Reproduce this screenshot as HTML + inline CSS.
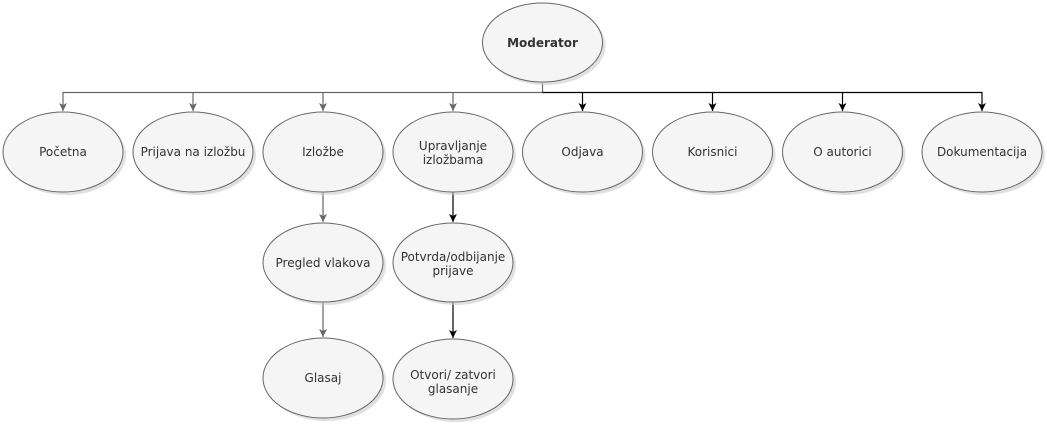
<!DOCTYPE html>
<html><head><meta charset="utf-8"><style>
html,body{margin:0;padding:0;background:#fff;}
svg{display:block;}
text{font-family:"DejaVu Sans","Liberation Sans",sans-serif;font-size:12px;fill:#333;text-anchor:middle;}
</style></head><body>
<svg width="1047" height="428" viewBox="0 0 1047 428" xmlns="http://www.w3.org/2000/svg">
<defs>
<marker id="ag" markerWidth="10" markerHeight="10" refX="8" refY="4" orient="auto" markerUnits="userSpaceOnUse"><path d="M0,0 L8,4 L0,8 L2,4 Z" fill="#666"/></marker>
<marker id="ab" markerWidth="10" markerHeight="10" refX="8" refY="4" orient="auto" markerUnits="userSpaceOnUse"><path d="M0,0 L8,4 L0,8 L2,4 Z" fill="#000"/></marker>
</defs>
<g fill="none" stroke-width="1.2">
<path d="M542.5 83 V92.5 H63 V111" stroke="#666" marker-end="url(#ag)"/>
<path d="M193 92.5 V111" stroke="#666" marker-end="url(#ag)"/>
<path d="M323 92.5 V111" stroke="#666" marker-end="url(#ag)"/>
<path d="M453 92.5 V111" stroke="#666" marker-end="url(#ag)"/>
<path d="M542.5 92.5 H982 V111" stroke="#000" marker-end="url(#ab)"/>
<path d="M582.5 92.5 V111" stroke="#000" marker-end="url(#ab)"/>
<path d="M712.5 92.5 V111" stroke="#000" marker-end="url(#ab)"/>
<path d="M842.5 92.5 V111" stroke="#000" marker-end="url(#ab)"/>
<path d="M323 192 V222" stroke="#666" marker-end="url(#ag)"/>
<path d="M323 302 V337" stroke="#666" marker-end="url(#ag)"/>
<path d="M453 192 V222" stroke="#000" marker-end="url(#ab)"/>
<path d="M453 302 V338" stroke="#000" marker-end="url(#ab)"/>
</g>
<g fill="#ccc" opacity="0.6">
<ellipse cx="545.5" cy="45.5" rx="60" ry="39.5"/>
<ellipse cx="66" cy="155" rx="60" ry="40"/>
<ellipse cx="196" cy="155" rx="60" ry="40"/>
<ellipse cx="326" cy="155" rx="60" ry="40"/>
<ellipse cx="456" cy="155" rx="60" ry="40"/>
<ellipse cx="585.5" cy="155" rx="60" ry="40"/>
<ellipse cx="715.5" cy="155" rx="60" ry="40"/>
<ellipse cx="845.5" cy="155" rx="60" ry="40"/>
<ellipse cx="985" cy="155" rx="60" ry="40"/>
<ellipse cx="326" cy="265.5" rx="60" ry="39.5"/>
<ellipse cx="456" cy="265.5" rx="60" ry="39.5"/>
<ellipse cx="326" cy="381" rx="60" ry="40"/>
<ellipse cx="456" cy="382" rx="60" ry="40"/>
</g>
<g fill="#f5f5f5" stroke="#666" stroke-width="1">
<ellipse cx="542.5" cy="42.5" rx="60" ry="39.5"/>
<ellipse cx="63" cy="152" rx="60" ry="40"/>
<ellipse cx="193" cy="152" rx="60" ry="40"/>
<ellipse cx="323" cy="152" rx="60" ry="40"/>
<ellipse cx="453" cy="152" rx="60" ry="40"/>
<ellipse cx="582.5" cy="152" rx="60" ry="40"/>
<ellipse cx="712.5" cy="152" rx="60" ry="40"/>
<ellipse cx="842.5" cy="152" rx="60" ry="40"/>
<ellipse cx="982" cy="152" rx="60" ry="40"/>
<ellipse cx="323" cy="262.5" rx="60" ry="39.5"/>
<ellipse cx="453" cy="262.5" rx="60" ry="39.5"/>
<ellipse cx="323" cy="378" rx="60" ry="40"/>
<ellipse cx="453" cy="379" rx="60" ry="40"/>
</g>
<text x="542.5" y="47" style="font-weight:bold">Moderator</text>
<text x="63" y="156">Početna</text>
<text x="193" y="156">Prijava na izložbu</text>
<text x="323" y="156">Izložbe</text>
<text x="453" y="150">Upravljanje</text>
<text x="453" y="164">izložbama</text>
<text x="582.5" y="156">Odjava</text>
<text x="712.5" y="156">Korisnici</text>
<text x="842.5" y="156">O autorici</text>
<text x="982" y="156">Dokumentacija</text>
<text x="323" y="267">Pregled vlakova</text>
<text x="453" y="261">Potvrda/odbijanje</text>
<text x="453" y="275">prijave</text>
<text x="323" y="382">Glasaj</text>
<text x="453" y="379">Otvori/ zatvori</text>
<text x="453" y="393">glasanje</text>
</svg>
</body></html>
